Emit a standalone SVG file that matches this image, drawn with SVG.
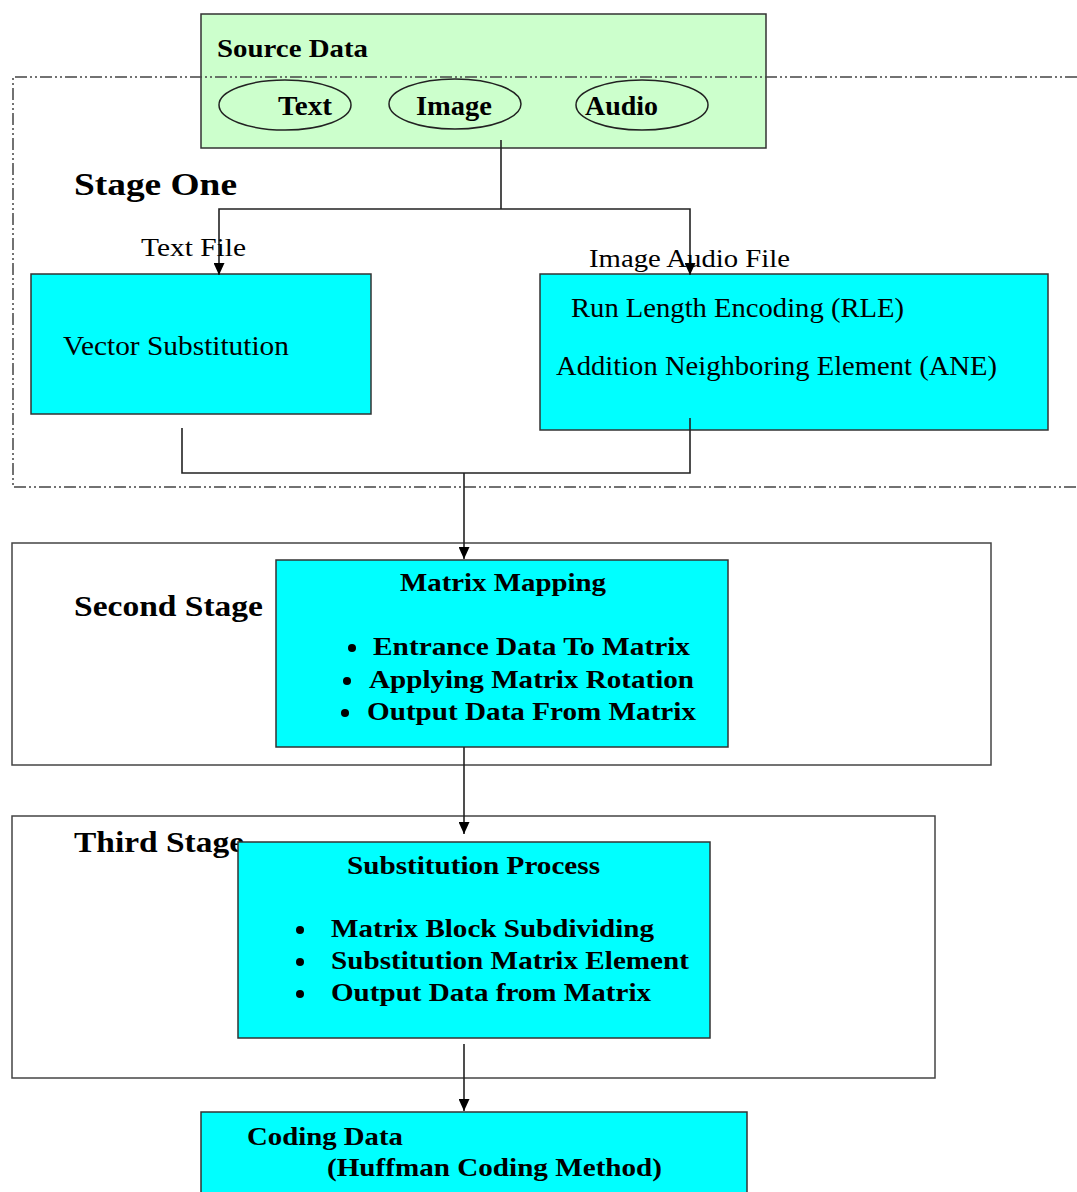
<svg xmlns="http://www.w3.org/2000/svg" width="1077" height="1192" viewBox="0 0 1077 1192">
<style>
.b{font-family:"Liberation Serif","Times New Roman",serif;font-weight:bold;fill:#000}
.r{font-family:"Liberation Serif","Times New Roman",serif;fill:#000}
.box{stroke:#333;stroke-width:1.5}
.cy{fill:#00ffff}
.frame{fill:none;stroke:#444;stroke-width:1.5}
.conn{fill:none;stroke:#222;stroke-width:1.6}
</style>
<defs>
<marker id="ah" markerWidth="12" markerHeight="11" refX="12" refY="5.5" orient="auto" markerUnits="userSpaceOnUse" viewBox="0 0 12 11">
<path d="M0,0 L12,5.5 L0,11 Z" fill="#000"/>
</marker>
</defs>
<rect width="1077" height="1192" fill="#fff"/>

<g id="source-data">
<rect class="box" x="201" y="14" width="565" height="134" fill="#ccffcc"/>
<text class="b" x="217" y="57" font-size="26" textLength="151" lengthAdjust="spacingAndGlyphs">Source Data</text>
<ellipse cx="285" cy="105" rx="66" ry="25" fill="none" stroke="#222" stroke-width="1.5"/>
<text class="b" x="278" y="115" font-size="27" textLength="54" lengthAdjust="spacingAndGlyphs">Text</text>
<ellipse cx="455" cy="104" rx="66" ry="25" fill="none" stroke="#222" stroke-width="1.5"/>
<text class="b" x="416" y="115" font-size="27" textLength="76" lengthAdjust="spacingAndGlyphs">Image</text>
<ellipse cx="642" cy="105" rx="66" ry="25" fill="none" stroke="#222" stroke-width="1.5"/>
<text class="b" x="585" y="115" font-size="27" textLength="73" lengthAdjust="spacingAndGlyphs">Audio</text>
</g>

<g id="stage-frames">
<path d="M1077,77 L13,77 L13,487 L1077,487" fill="none" stroke="#444" stroke-width="1.5" stroke-dasharray="12 3 2 3 2 3"/>
<rect id="second-stage-frame" class="frame" x="12" y="543" width="979" height="222"/>
<rect id="third-stage-frame" class="frame" x="12" y="816" width="923" height="262"/>
</g>

<g id="stage-one-label">
<text class="b" x="74" y="195" font-size="31" textLength="163" lengthAdjust="spacingAndGlyphs">Stage One</text>
</g>

<g id="vector-substitution">
<rect class="box cy" x="31" y="274" width="340" height="140"/>
<text class="r" x="63" y="355" font-size="28" textLength="226" lengthAdjust="spacingAndGlyphs">Vector Substitution</text>
</g>

<g id="rle-ane">
<rect class="box cy" x="540" y="274" width="508" height="156"/>
<text class="r" x="571" y="317" font-size="28" textLength="333" lengthAdjust="spacingAndGlyphs">Run Length Encoding (RLE)</text>
<text class="r" x="556" y="375" font-size="28" textLength="441" lengthAdjust="spacingAndGlyphs">Addition Neighboring Element (ANE)</text>
</g>

<g id="second-stage-label">
<text class="b" x="74" y="616" font-size="30" textLength="189" lengthAdjust="spacingAndGlyphs">Second Stage</text>
</g>

<g id="matrix-mapping">
<rect class="box cy" x="276" y="560" width="452" height="187"/>
<text class="b" x="400" y="591" font-size="26" textLength="206" lengthAdjust="spacingAndGlyphs">Matrix Mapping</text>
<circle cx="352" cy="648" r="4" fill="#000"/>
<text class="b" x="373" y="655" font-size="26" textLength="317" lengthAdjust="spacingAndGlyphs">Entrance Data To Matrix</text>
<circle cx="347" cy="681" r="4" fill="#000"/>
<text class="b" x="369" y="688" font-size="26" textLength="325" lengthAdjust="spacingAndGlyphs">Applying Matrix Rotation</text>
<circle cx="345" cy="713" r="4" fill="#000"/>
<text class="b" x="367" y="720" font-size="26" textLength="329" lengthAdjust="spacingAndGlyphs">Output Data From Matrix</text>
</g>

<g id="third-stage-label">
<text class="b" x="74" y="852" font-size="30" textLength="170" lengthAdjust="spacingAndGlyphs">Third Stage</text>
</g>

<g id="substitution-process">
<rect class="box cy" x="238" y="842" width="472" height="196"/>
<text class="b" x="347" y="874" font-size="26" textLength="253" lengthAdjust="spacingAndGlyphs">Substitution Process</text>
<circle cx="300" cy="930" r="4" fill="#000"/>
<text class="b" x="331" y="937" font-size="26" textLength="323" lengthAdjust="spacingAndGlyphs">Matrix Block Subdividing</text>
<circle cx="300" cy="962" r="4" fill="#000"/>
<text class="b" x="331" y="969" font-size="26" textLength="358" lengthAdjust="spacingAndGlyphs">Substitution Matrix Element</text>
<circle cx="300" cy="994" r="4" fill="#000"/>
<text class="b" x="331" y="1001" font-size="26" textLength="320" lengthAdjust="spacingAndGlyphs">Output Data from Matrix</text>
</g>

<g id="coding-data">
<rect class="box cy" x="201" y="1112" width="546" height="90"/>
<text class="b" x="247" y="1145" font-size="26" textLength="156" lengthAdjust="spacingAndGlyphs">Coding Data</text>
<text class="b" x="327" y="1176" font-size="26" textLength="335" lengthAdjust="spacingAndGlyphs">(Huffman Coding Method)</text>
</g>

<g id="connectors">
<path class="conn" d="M501,140 L501,209"/>
<path class="conn" d="M501,209 L219,209 L219,275" marker-end="url(#ah)"/>
<path class="conn" d="M501,209 L690,209 L690,275" marker-end="url(#ah)"/>
<text class="r" x="141" y="256" font-size="26" textLength="105" lengthAdjust="spacingAndGlyphs">Text File</text>
<text class="r" x="589" y="267" font-size="26" textLength="201" lengthAdjust="spacingAndGlyphs">Image Audio File</text>
<path class="conn" d="M182,428 L182,473 L690,473 L690,418"/>
<path class="conn" d="M464,473 L464,559" marker-end="url(#ah)"/>
<path class="conn" d="M464,747 L464,834" marker-end="url(#ah)"/>
<path class="conn" d="M464,1044 L464,1111" marker-end="url(#ah)"/>
</g>
</svg>
